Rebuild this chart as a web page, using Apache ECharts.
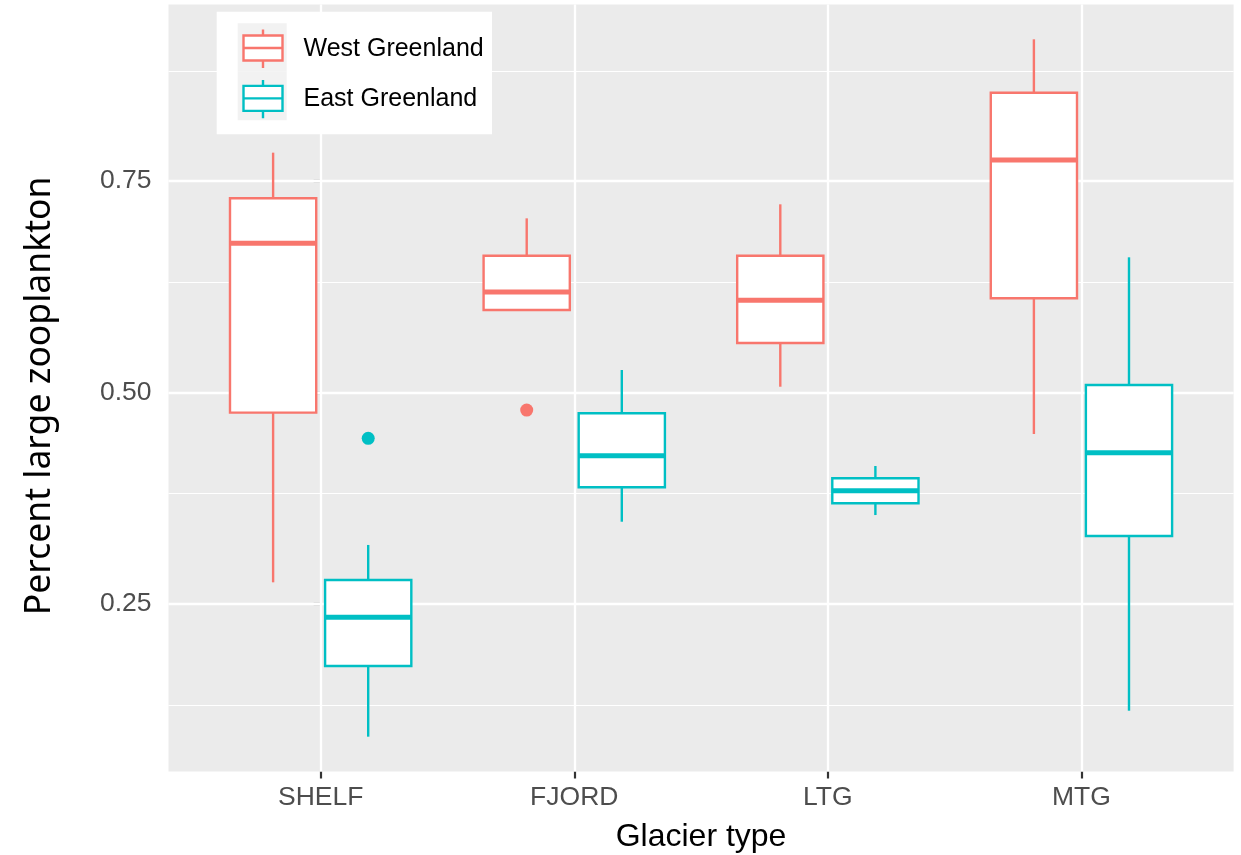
<!DOCTYPE html>
<html><head><meta charset="utf-8">
<script src="https://cdn.jsdelivr.net/npm/echarts@6/dist/echarts.min.js"></script>
<style>html,body{margin:0;padding:0;background:#fff}#c{width:1241px;height:855px}</style>
</head><body><div id="c"></div>
<script>
// ---- data ----
const categories = ['SHELF', 'FJORD', 'LTG', 'MTG'];
const seriesNames = ['West Greenland', 'East Greenland'];
// each row: [lower whisker, Q1, median, Q3, upper whisker]
const westStats = [
  [0.2752, 0.4759, 0.6763, 0.7295, 0.7835],
  [0.5974, 0.5974, 0.6187, 0.6616, 0.7058],
  [0.5066, 0.5583, 0.6088, 0.6616, 0.7224],
  [0.4507, 0.6112, 0.7748, 0.8544, 0.9176]
];
const eastStats = [
  [0.0926, 0.1762, 0.2338, 0.2779, 0.3194],
  [0.3469, 0.3876, 0.4250, 0.4752, 0.5264],
  [0.3548, 0.3687, 0.3836, 0.3983, 0.4128],
  [0.1233, 0.3300, 0.4286, 0.5086, 0.6597]
];
// outliers: [category index, value]
const westOutliers = [[1, 0.479]];
const eastOutliers = [[0, 0.4456]];
const yTickValues = [0.25, 0.50, 0.75];
const yTickLabels = ['0.25', '0.50', '0.75'];
const yMinorValues = [0.125, 0.375, 0.625, 0.875];
const xTickValues = [0, 1, 2, 3];

// ---- style ----
const WEST = '#F8766D', EAST = '#00BFC4';
const DODGE = 0.1875, BOX_WIDTH = 0.34, LW = 2.4;

function boxRenderer(color) {
  return function (params, api) {
    const x = api.value(0);
    const pLow = api.coord([x, api.value(1)]);
    const pQ1 = api.coord([x, api.value(2)]);
    const pMed = api.coord([x, api.value(3)]);
    const pQ3 = api.coord([x, api.value(4)]);
    const pHigh = api.coord([x, api.value(5)]);
    const half = api.size([BOX_WIDTH, 0])[0] / 2;
    const cx = pMed[0];
    return {
      type: 'group',
      children: [
        {type: 'line', shape: {x1: cx, y1: pHigh[1], x2: cx, y2: pQ3[1]}, style: {stroke: color, lineWidth: LW}},
        {type: 'line', shape: {x1: cx, y1: pQ1[1], x2: cx, y2: pLow[1]}, style: {stroke: color, lineWidth: LW}},
        {type: 'rect', shape: {x: cx - half, y: pQ3[1], width: half * 2, height: pQ1[1] - pQ3[1]},
          style: {fill: '#fff', stroke: color, lineWidth: LW}},
        {type: 'line', shape: {x1: cx - half, y1: pMed[1], x2: cx + half, y2: pMed[1]},
          style: {stroke: color, lineWidth: LW * 2.1}}
      ]
    };
  };
}

const gridLines = []
  .concat(yMinorValues.map(v => ({yAxis: v, lineStyle: {width: 1.2}})))
  .concat(yTickValues.map(v => ({yAxis: v, lineStyle: {width: 2.3}})))
  .concat(xTickValues.map(v => ({xAxis: v, lineStyle: {width: 2.3}})));

const tickStyle = {color: '#333333', width: 2.2};
const chart = echarts.init(document.getElementById('c'), null, {renderer: 'canvas'});
chart.setOption({
  animation: false,
  backgroundColor: '#fff',
  grid: {left: 168.5, right: 7.4, top: 4.4, bottom: 83.5, show: true, backgroundColor: '#EBEBEB',
    borderWidth: 0, containLabel: false, outerBoundsMode: 'none'},
  xAxis: {
    type: 'value', min: -0.6, max: 3.6,
    axisLine: {show: false}, splitLine: {show: false}, minorSplitLine: {show: false},
    axisTick: {show: true, customValues: xTickValues, length: 7, lineStyle: tickStyle},
    axisLabel: {customValues: xTickValues, formatter: v => categories[Math.round(v)] || '',
      fontFamily: 'Liberation Sans', fontSize: 26.5, color: '#4D4D4D', margin: 13},
    name: 'Glacier type', nameLocation: 'middle', nameGap: 49.5,
    nameTextStyle: {fontFamily: 'Liberation Sans', fontSize: 32, color: '#000'}
  },
  yAxis: {
    type: 'value', min: 0.0514, max: 0.9589,
    axisLine: {show: false}, splitLine: {show: false},
    axisTick: {show: true, customValues: yTickValues, length: 7, lineStyle: tickStyle},
    axisLabel: {customValues: yTickValues,
      formatter: v => { let b = 0; yTickValues.forEach((t, i) => { if (Math.abs(t - v) < Math.abs(yTickValues[b] - v)) b = i; }); return yTickLabels[b]; },
      fontFamily: 'Liberation Sans', fontSize: 26.5, color: '#4D4D4D', margin: 17, padding: [3, 0, 0, 0]},
    name: 'Percent large zooplankton', nameLocation: 'middle', nameGap: 111,
    nameTextStyle: {fontFamily: 'Noto Sans', fontSize: 35.5, color: '#000', padding: [0, 16, 0, 0]}
  },
  legend: {
    orient: 'vertical', left: 242.3, top: 28.3, padding: 0, itemGap: 9.6,
    itemWidth: 39, itemHeight: 38.4, z: 5,
    icon: 'path://M0,6L39,6L39,31L0,31ZM0,18.5L39,18.5M19.5,0L19.5,6M19.5,31L19.5,38.4',
    textStyle: {fontFamily: 'Liberation Sans', fontSize: 25, color: '#000', padding: [1, 0, 0, 16]},
    data: [
      {name: seriesNames[0], itemStyle: {color: '#fff', borderColor: WEST, borderWidth: 2.4}},
      {name: seriesNames[1], itemStyle: {color: '#fff', borderColor: EAST, borderWidth: 2.4}}
    ]
  },
  graphic: [
    {type: 'rect', z: 3, shape: {x: 216.7, y: 11.7, width: 275.3, height: 122.6}, style: {fill: '#fff'}, silent: true},
    {type: 'rect', z: 3, shape: {x: 237.7, y: 23.3, width: 49, height: 48.5}, style: {fill: '#F2F2F2'}, silent: true},
    {type: 'rect', z: 3, shape: {x: 237.7, y: 71.8, width: 49, height: 48.5}, style: {fill: '#F2F2F2'}, silent: true}
  ],
  series: [
    {
      type: 'line', name: '_grid', data: [], silent: true,
      markLine: {z: 1, silent: true, symbol: ['none', 'none'], label: {show: false},
        lineStyle: {color: '#fff', type: 'solid'}, emphasis: {disabled: true}, data: gridLines}
    },
    {
      type: 'custom', name: seriesNames[0], z: 2, itemStyle: {color: WEST},
      renderItem: boxRenderer(WEST),
      encode: {x: 0, y: [1, 2, 3, 4, 5]},
      data: westStats.map((s, i) => [i - DODGE].concat(s))
    },
    {
      type: 'custom', name: seriesNames[1], z: 2, itemStyle: {color: EAST},
      renderItem: boxRenderer(EAST),
      encode: {x: 0, y: [1, 2, 3, 4, 5]},
      data: eastStats.map((s, i) => [i + DODGE].concat(s))
    },
    {
      type: 'scatter', name: seriesNames[0], z: 3, symbolSize: 13, itemStyle: {color: WEST, opacity: 1},
      data: westOutliers.map(o => [o[0] - DODGE, o[1]])
    },
    {
      type: 'scatter', name: seriesNames[1], z: 3, symbolSize: 13, itemStyle: {color: EAST, opacity: 1},
      data: eastOutliers.map(o => [o[0] + DODGE, o[1]])
    }
  ]
});
</script></body></html>
